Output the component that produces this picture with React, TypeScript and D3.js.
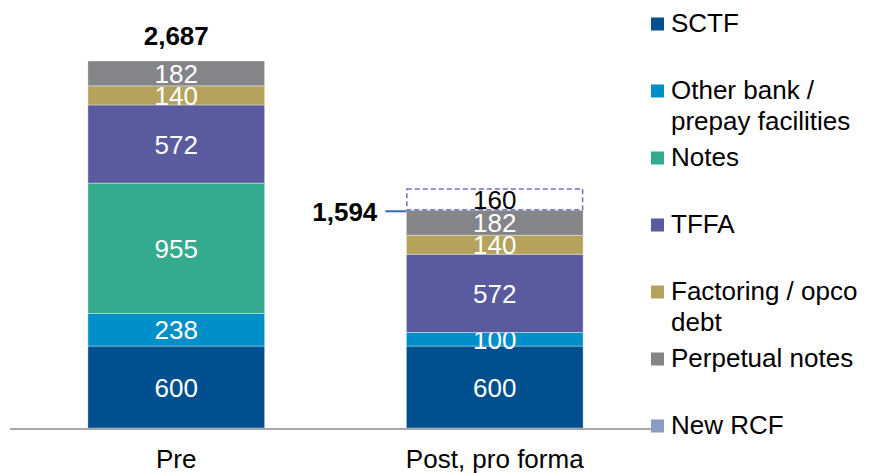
import React from "react";
import * as d3 from "d3";

// Debt stack, pre vs post (pro forma), by instrument
const categories = ["Pre", "Post, pro forma"];
const seriesNames = [
  "SCTF",
  "Other bank / prepay facilities",
  "Notes",
  "TFFA",
  "Factoring / opco debt",
  "Perpetual notes",
  "New RCF",
];
const legendLines = [
  ["SCTF"],
  ["Other bank /", "prepay facilities"],
  ["Notes"],
  ["TFFA"],
  ["Factoring / opco", "debt"],
  ["Perpetual notes"],
  ["New RCF"],
];
const seriesColors = ["#004f8f", "#008fc8", "#34ab8e", "#5a5b9f", "#b5a25d", "#848589", "#8a9cc4"];
const preValues = [600, 238, 955, 572, 140, 182, 0];
const postValues = [600, 100, 0, 572, 140, 182, 160];
const totalLabels = ["2,687", "1,594"];
// series drawn as a dashed outline on top of the solid stack
const dashedSeries = "New RCF";

const W = 875;
const H = 473;
const FONT = "'Liberation Sans', Arial, Helvetica, sans-serif";

export default function App() {
  const values = [preValues, postValues];
  const rows = categories.map((c, i) => {
    const r: Record<string, any> = { category: c };
    seriesNames.forEach((s, j) => (r[s] = values[i][j]));
    return r;
  });
  const stacked = d3.stack<any>().keys(seriesNames)(rows);

  const baseline = 428;
  const x = d3
    .scaleBand()
    .domain(categories)
    .range([0, 671])
    .paddingInner(0.445)
    .paddingOuter(0.276);
  // totals excluding the dashed addition
  const solidTotals = values.map((v) =>
    d3.sum(v.filter((_, j) => seriesNames[j] !== dashedSeries))
  );
  const y = d3.scaleLinear().domain([0, d3.max(solidTotals)!]).range([baseline, 61]);

  const bw = x.bandwidth();

  return (
    <svg
      width={W}
      height={H}
      style={{ position: "absolute", left: 0, top: 0, background: "#fff" }}
      fontFamily={FONT}
    >
      {stacked.map((layer, si) => {
        const name = seriesNames[si];
        const dashed = name === dashedSeries;
        return (
          <g key={name}>
            {layer.map((d, ci) => {
              const v = d[1] - d[0];
              if (!v) return null;
              const x0 = x(categories[ci])!;
              const y0 = y(d[1]);
              const h = y(d[0]) - y(d[1]);
              return (
                <g key={ci}>
                  {dashed ? (
                    <rect
                      x={x0 + 0.5}
                      y={y0 + 0.5}
                      width={bw - 1}
                      height={h - 1}
                      fill="#fff"
                      stroke="#6e6ec0"
                      strokeWidth={1.5}
                      strokeDasharray="5,3"
                    />
                  ) : (
                    <rect
                      x={x0}
                      y={y0}
                      width={bw}
                      height={h}
                      fill={seriesColors[si]}
                      stroke="#ffffff"
                      strokeOpacity={0.45}
                      strokeWidth={0.8}
                    />
                  )}
                  <text
                    x={x0 + bw / 2}
                    y={y0 + h / 2 + 9.5}
                    textAnchor="middle"
                    fontSize={26}
                    fill={dashed ? "#000" : "#fff"}
                  >
                    {v}
                  </text>
                </g>
              );
            })}
          </g>
        );
      })}

      {/* axis baseline */}
      <line x1={10} x2={652} y1={baseline + 1} y2={baseline + 1} stroke="#a6a8aa" strokeWidth={2} />

      {/* category labels */}
      {categories.map((c) => (
        <text key={c} x={x(c)! + bw / 2} y={468} textAnchor="middle" fontSize={26} fill="#000">
          {c}
        </text>
      ))}

      {/* total labels */}
      <text
        x={x(categories[0])! + bw / 2}
        y={y(solidTotals[0]) - 16}
        textAnchor="middle"
        fontSize={26}
        fontWeight="bold"
        fill="#000"
      >
        {totalLabels[0]}
      </text>
      <line
        x1={x(categories[1])! - 21}
        x2={x(categories[1])!}
        y1={y(solidTotals[1]) + 1}
        y2={y(solidTotals[1]) + 1}
        stroke="#2a6db5"
        strokeWidth={2}
      />
      <text
        x={x(categories[1])! - 29}
        y={y(solidTotals[1]) + 11}
        textAnchor="end"
        fontSize={26}
        fontWeight="bold"
        fill="#000"
      >
        {totalLabels[1]}
      </text>

      {/* legend */}
      {legendLines.map((lines, i) => {
        const cy = 24 + i * 67;
        return (
          <g key={i}>
            <rect x={651} y={cy - 6.5} width={13} height={13} fill={seriesColors[i]} />
            {lines.map((ln, k) => (
              <text key={k} x={671} y={cy + 8 + k * 31} fontSize={26} fill="#000">
                {ln}
              </text>
            ))}
          </g>
        );
      })}
    </svg>
  );
}
